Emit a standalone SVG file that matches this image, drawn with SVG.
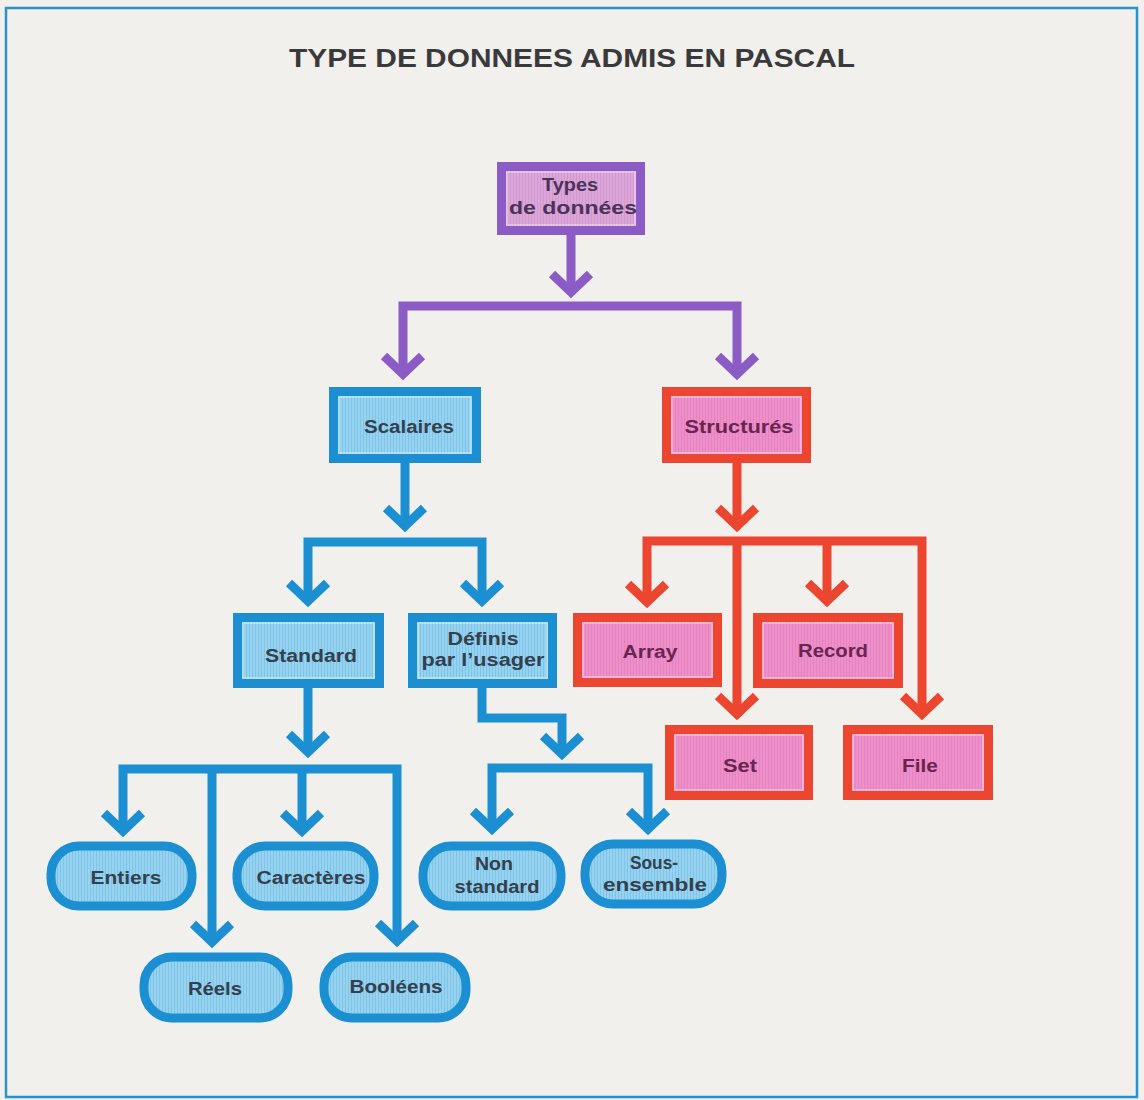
<svg xmlns="http://www.w3.org/2000/svg" width="1144" height="1100" viewBox="0 0 1144 1100">
<defs>
  <pattern id="hBlue" width="3" height="6" patternUnits="userSpaceOnUse">
    <rect width="3" height="6" fill="#95d3f0"/>
    <rect width="1" height="6" fill="#7fc3e6"/>
  </pattern>
  <pattern id="hPink" width="3" height="6" patternUnits="userSpaceOnUse">
    <rect width="3" height="6" fill="#ee8fca"/>
    <rect width="1" height="6" fill="#e582c0"/>
  </pattern>
  <pattern id="hPurple" width="3" height="6" patternUnits="userSpaceOnUse">
    <rect width="3" height="6" fill="#dca6d8"/>
    <rect width="1" height="6" fill="#cf98cf"/>
  </pattern>
  <marker id="aPurple" markerUnits="userSpaceOnUse" orient="auto-start-reverse" markerWidth="60" markerHeight="60" refX="0" refY="0" viewBox="-30 -30 60 60" overflow="visible">
    <path d="M-18,-19 L0,0 L-18,19" fill="none" stroke="#8b5cc6" stroke-width="9" stroke-linejoin="miter"/>
  </marker>
  <marker id="aBlue" markerUnits="userSpaceOnUse" orient="auto-start-reverse" markerWidth="60" markerHeight="60" refX="0" refY="0" viewBox="-30 -30 60 60" overflow="visible">
    <path d="M-18,-19 L0,0 L-18,19" fill="none" stroke="#1b8fd2" stroke-width="9" stroke-linejoin="miter"/>
  </marker>
  <marker id="aRed" markerUnits="userSpaceOnUse" orient="auto-start-reverse" markerWidth="60" markerHeight="60" refX="0" refY="0" viewBox="-30 -30 60 60" overflow="visible">
    <path d="M-18,-19 L0,0 L-18,19" fill="none" stroke="#ec4530" stroke-width="9" stroke-linejoin="miter"/>
  </marker>
</defs>
<style>
  .bg { fill: #f2f0ec; }
  .frame { fill: none; stroke: #2a93c9; stroke-width: 2.5; }
  .title { font-family: "Liberation Sans", Arial, sans-serif; font-weight: bold; font-size: 25px; fill: #3a3a3c; }
  .lbl { font-family: "Liberation Sans", Arial, sans-serif; font-weight: bold; font-size: 18px; text-anchor: middle; }
  .tb { fill: #33404e; }
  .tr { fill: #6a2450; }
  .tp { fill: #4a3358; }
  .sb { stroke: #1b8fd2; }
  .sr { stroke: #ec4530; }
  .sp { stroke: #8b5cc6; }
  .box { stroke-width: 9; }
  .hl { fill: none; stroke: #ffffff; stroke-opacity: 0.45; stroke-width: 1.5; }
  .c { fill: none; stroke-width: 9; stroke-linejoin: miter; stroke-linecap: butt; }
</style>

<rect class="bg" x="0" y="0" width="1144" height="1100"/>
<rect class="frame" x="6" y="8" width="1131" height="1089"/>

<text class="title" x="572" y="67" text-anchor="middle" textLength="566" lengthAdjust="spacingAndGlyphs">TYPE DE DONNEES ADMIS EN PASCAL</text>

<g id="connectors">
  <!-- purple -->
  <path class="c sp" d="M571,235 V292" marker-end="url(#aPurple)"/>
  <path class="c sp" d="M403,374 V306 H737 V374" marker-start="url(#aPurple)" marker-end="url(#aPurple)"/>
  <!-- blue: scalaires -->
  <path class="c sb" d="M405,463 V526" marker-end="url(#aBlue)"/>
  <path class="c sb" d="M308,601 V542 H482 V601" marker-start="url(#aBlue)" marker-end="url(#aBlue)"/>
  <!-- blue: standard -->
  <path class="c sb" d="M308,688 V752" marker-end="url(#aBlue)"/>
  <path class="c sb" d="M123,831 V769 H397 V941" marker-start="url(#aBlue)" marker-end="url(#aBlue)"/>
  <path class="c sb" d="M212,769 V942" marker-end="url(#aBlue)"/>
  <path class="c sb" d="M302,769 V831" marker-end="url(#aBlue)"/>
  <!-- blue: definis -->
  <path class="c sb" d="M482,688 V718 H562 V754" marker-end="url(#aBlue)"/>
  <path class="c sb" d="M492,829 V768 H648 V829" marker-start="url(#aBlue)" marker-end="url(#aBlue)"/>
  <!-- red -->
  <path class="c sr" d="M737,463 V526" marker-end="url(#aRed)"/>
  <path class="c sr" d="M647,602 V541 H922 V714" marker-start="url(#aRed)" marker-end="url(#aRed)"/>
  <path class="c sr" d="M737,541 V714" marker-end="url(#aRed)"/>
  <path class="c sr" d="M827,541 V601" marker-end="url(#aRed)"/>
</g>

<g id="types">
  <rect class="box sp" x="501.5" y="166.5" width="139" height="64" fill="url(#hPurple)"/>
  <rect class="hl" x="507" y="172" width="128" height="53"/>
  <text class="lbl tp" x="570" y="191" textLength="56" lengthAdjust="spacingAndGlyphs">Types</text>
  <text class="lbl tp" x="573" y="214" textLength="128" lengthAdjust="spacingAndGlyphs">de données</text>
</g>

<g id="scalaires">
  <rect class="box sb" x="333.5" y="391.5" width="143" height="67" fill="url(#hBlue)"/>
  <rect class="hl" x="339" y="397" width="132" height="56"/>
  <text class="lbl tb" x="409" y="433" textLength="90" lengthAdjust="spacingAndGlyphs">Scalaires</text>
</g>

<g id="structures">
  <rect class="box sr" x="666.5" y="391.5" width="140" height="67" fill="url(#hPink)"/>
  <rect class="hl" x="672" y="397" width="129" height="56"/>
  <text class="lbl tr" x="739" y="433" textLength="109" lengthAdjust="spacingAndGlyphs">Structurés</text>
</g>

<g id="standard">
  <rect class="box sb" x="237.5" y="617.5" width="142" height="66" fill="url(#hBlue)"/>
  <rect class="hl" x="243" y="623" width="131" height="55"/>
  <text class="lbl tb" x="311" y="662" textLength="92" lengthAdjust="spacingAndGlyphs">Standard</text>
</g>

<g id="definis">
  <rect class="box sb" x="412.5" y="617.5" width="140" height="66" fill="url(#hBlue)"/>
  <rect class="hl" x="418" y="623" width="129" height="55"/>
  <text class="lbl tb" x="483" y="645" textLength="71" lengthAdjust="spacingAndGlyphs">Définis</text>
  <text class="lbl tb" x="483" y="666" textLength="123" lengthAdjust="spacingAndGlyphs">par l’usager</text>
</g>

<g id="array">
  <rect class="box sr" x="577.5" y="617.5" width="140" height="65" fill="url(#hPink)"/>
  <rect class="hl" x="583" y="623" width="129" height="54"/>
  <text class="lbl tr" x="650" y="658" textLength="55" lengthAdjust="spacingAndGlyphs">Array</text>
</g>

<g id="record">
  <rect class="box sr" x="757.5" y="617.5" width="141" height="66" fill="url(#hPink)"/>
  <rect class="hl" x="763" y="623" width="130" height="55"/>
  <text class="lbl tr" x="833" y="657" textLength="70" lengthAdjust="spacingAndGlyphs">Record</text>
</g>

<g id="set">
  <rect class="box sr" x="669.5" y="729.5" width="139" height="66" fill="url(#hPink)"/>
  <rect class="hl" x="675" y="735" width="128" height="55"/>
  <text class="lbl tr" x="740" y="772" textLength="34" lengthAdjust="spacingAndGlyphs">Set</text>
</g>

<g id="file">
  <rect class="box sr" x="847.5" y="729.5" width="141" height="66" fill="url(#hPink)"/>
  <rect class="hl" x="853" y="735" width="130" height="55"/>
  <text class="lbl tr" x="920" y="772" textLength="36" lengthAdjust="spacingAndGlyphs">File</text>
</g>

<g id="entiers">
  <rect class="box sb" x="51" y="846" width="141" height="60" rx="28" fill="url(#hBlue)"/>
  <text class="lbl tb" x="126" y="884" textLength="71" lengthAdjust="spacingAndGlyphs">Entiers</text>
</g>

<g id="caracteres">
  <rect class="box sb" x="237" y="846" width="137" height="60" rx="28" fill="url(#hBlue)"/>
  <text class="lbl tb" x="311" y="884" textLength="109" lengthAdjust="spacingAndGlyphs">Caractères</text>
</g>

<g id="nonstandard">
  <rect class="box sb" x="423" y="846" width="138" height="60" rx="28" fill="url(#hBlue)"/>
  <text class="lbl tb" x="494" y="870" textLength="38" lengthAdjust="spacingAndGlyphs">Non</text>
  <text class="lbl tb" x="497" y="893" textLength="85" lengthAdjust="spacingAndGlyphs">standard</text>
</g>

<g id="sousensemble">
  <rect class="box sb" x="585" y="844" width="137" height="60" rx="28" fill="url(#hBlue)"/>
  <text class="lbl tb" x="654" y="869" textLength="48" lengthAdjust="spacingAndGlyphs">Sous-</text>
  <text class="lbl tb" x="655" y="891" textLength="104" lengthAdjust="spacingAndGlyphs">ensemble</text>
</g>

<g id="reels">
  <rect class="box sb" x="144" y="957" width="144" height="61" rx="28" fill="url(#hBlue)"/>
  <text class="lbl tb" x="215" y="995" textLength="54" lengthAdjust="spacingAndGlyphs">Réels</text>
</g>

<g id="booleens">
  <rect class="box sb" x="324" y="957" width="142" height="61" rx="28" fill="url(#hBlue)"/>
  <text class="lbl tb" x="396" y="993" textLength="93" lengthAdjust="spacingAndGlyphs">Booléens</text>
</g>
</svg>
